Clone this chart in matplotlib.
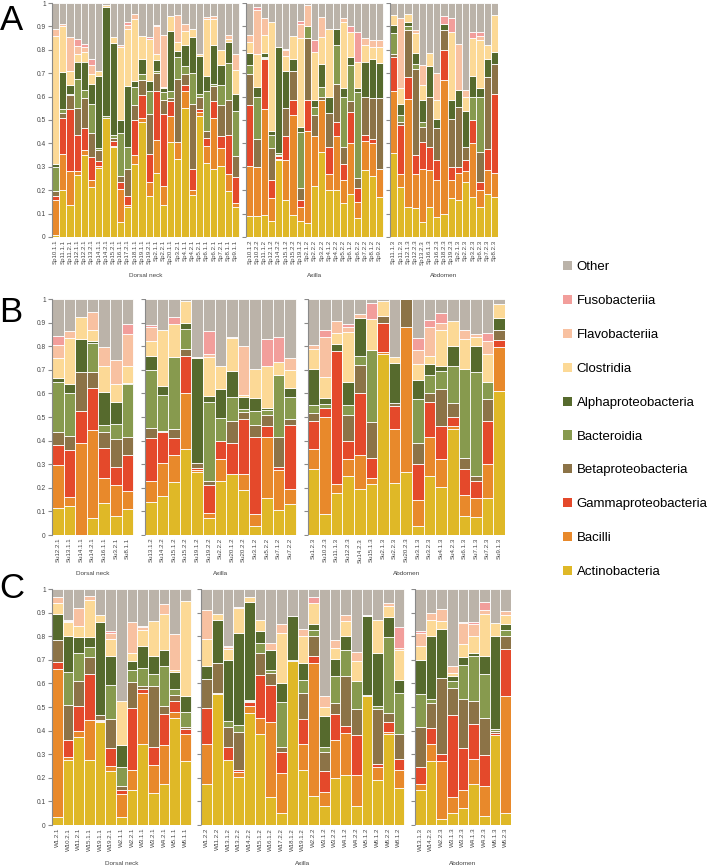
import matplotlib
matplotlib.use("Agg")
import matplotlib.pyplot as plt
from matplotlib.patches import Patch
import numpy as np

plt.rcParams['font.family'] = ['Liberation Sans', 'DejaVu Sans']

# --- Taxa, stacked from the bottom of each bar to the top --- #
TAXA = ['Actinobacteria', 'Bacilli', 'Gammaproteobacteria',
        'Betaproteobacteria', 'Bacteroidia', 'Alphaproteobacteria',
        'Clostridia', 'Flavobacteriia', 'Fusobacteriia', 'Other']
COLORS = ['#dfb827', '#e8892b', '#e4492b', '#8c7347', '#879a4e',
          '#566a2d', '#fcd996', '#f8c1a1', '#f29e9b', '#bbb3a9']
SITES = ['Dorsal neck', 'Axilla', 'Abdomen']

# Each row holds the cumulative top of Actinobacteria ... Fusobacteriia,
# 'Other' fills the rest of the bar up to 1.

# --- Panel A (Sp) --- #
A_NECK_LABELS = ['Sp10.1.1', 'Sp11.1.1', 'Sp11.2.1', 'Sp12.1.1', 'Sp12.2.1',
                 'Sp13.2.1', 'Sp14.1.1', 'Sp14.2.1', 'Sp15.2.1', 'Sp16.1.1',
                 'Sp17.2.1', 'Sp18.1.1', 'Sp19.1.1', 'Sp19.2.1', 'Sp2.1.1',
                 'Sp2.2.1', 'Sp20.1.1', 'Sp3.2.1', 'Sp4.1.1', 'Sp4.2.1',
                 'Sp5.2.1', 'Sp6.1.1', 'Sp6.2.1', 'Sp7.2.1', 'Sp8.1.1',
                 'Sp9.1.1']
A_NECK = [
    (0.01, 0.16, 0.175, 0.195, 0.30, 0.31, 0.86, 0.89, 0.89),
    (0.20, 0.355, 0.51, 0.53, 0.545, 0.705, 0.90, 0.91, 0.91),
    (0.135, 0.28, 0.545, 0.605, 0.61, 0.65, 0.71, 0.855, 0.855),
    (0.265, 0.28, 0.435, 0.55, 0.675, 0.75, 0.78, 0.815, 0.845),
    (0.35, 0.37, 0.465, 0.595, 0.63, 0.75, 0.79, 0.81, 0.825),
    (0.215, 0.245, 0.34, 0.445, 0.57, 0.655, 0.695, 0.735, 0.76),
    (0.295, 0.305, 0.325, 0.37, 0.38, 0.69, 0.71, 0.71, 0.71),
    (0.51, 0.51, 0.51, 0.51, 0.515, 0.985, 0.99, 0.99, 0.99),
    (0.385, 0.39, 0.41, 0.425, 0.435, 0.83, 0.855, 0.855, 0.855),
    (0.065, 0.205, 0.235, 0.26, 0.445, 0.50, 0.81, 0.82, 0.82),
    (0.13, 0.135, 0.175, 0.29, 0.385, 0.645, 0.89, 0.905, 0.92),
    (0.31, 0.35, 0.50, 0.565, 0.64, 0.665, 0.93, 0.955, 0.955),
    (0.49, 0.51, 0.605, 0.67, 0.695, 0.76, 0.86, 0.86, 0.86),
    (0.175, 0.235, 0.355, 0.525, 0.625, 0.665, 0.845, 0.845, 0.855),
    (0.275, 0.415, 0.625, 0.70, 0.71, 0.755, 0.78, 0.90, 0.905),
    (0.135, 0.22, 0.525, 0.585, 0.62, 0.635, 0.64, 0.865, 0.865),
    (0.405, 0.515, 0.58, 0.595, 0.625, 0.88, 0.945, 0.945, 0.945),
    (0.335, 0.405, 0.405, 0.675, 0.77, 0.795, 0.835, 0.95, 0.95),
    (0.55, 0.625, 0.65, 0.695, 0.73, 0.82, 0.88, 0.91, 0.91),
    (0.18, 0.20, 0.29, 0.57, 0.70, 0.855, 0.89, 0.89, 0.89),
    (0.515, 0.535, 0.545, 0.60, 0.61, 0.775, 0.78, 0.78, 0.78),
    (0.315, 0.39, 0.425, 0.455, 0.625, 0.69, 0.93, 0.94, 0.94),
    (0.29, 0.51, 0.58, 0.645, 0.655, 0.82, 0.93, 0.945, 0.945),
    (0.305, 0.38, 0.43, 0.565, 0.65, 0.735, 0.80, 0.80, 0.80),
    (0.195, 0.27, 0.435, 0.585, 0.745, 0.835, 0.845, 0.865, 0.865),
    (0.13, 0.145, 0.255, 0.345, 0.54, 0.61, 0.715, 0.78, 0.78),
]
A_AXILLA_LABELS = ['Sp10.1.2', 'Sp10.2.2', 'Sp11.1.2', 'Sp12.1.2', 'Sp14.2.2',
                   'Sp15.1.2', 'Sp15.2.2', 'Sp19.1.2', 'Sp2.1.2', 'Sp2.2.2',
                   'Sp3.2.2', 'Sp4.1.2', 'Sp4.2.2', 'Sp5.2.2', 'Sp6.1.2',
                   'Sp6.2.2', 'Sp7.2.2', 'Sp8.1.2', 'Sp9.2.2']
A_AXILLA = [
    (0.09, 0.305, 0.565, 0.695, 0.735, 0.785, 0.835, 0.865, 0.865),
    (0.09, 0.30, 0.30, 0.42, 0.60, 0.64, 0.78, 0.97, 0.985),
    (0.095, 0.545, 0.76, 0.765, 0.77, 0.785, 0.865, 0.935, 0.935),
    (0.07, 0.165, 0.245, 0.38, 0.435, 0.455, 0.92, 0.92, 0.92),
    (0.33, 0.335, 0.345, 0.35, 0.36, 0.81, 0.81, 0.81, 0.81),
    (0.16, 0.33, 0.43, 0.55, 0.55, 0.71, 0.775, 0.80, 0.805),
    (0.095, 0.52, 0.585, 0.71, 0.71, 0.76, 0.86, 0.86, 0.86),
    (0.07, 0.13, 0.16, 0.21, 0.45, 0.47, 0.85, 0.91, 0.925),
    (0.06, 0.455, 0.585, 0.85, 0.90, 0.90, 0.90, 0.99, 0.99),
    (0.22, 0.43, 0.43, 0.52, 0.555, 0.585, 0.79, 0.79, 0.84),
    (0.365, 0.585, 0.585, 0.60, 0.64, 0.74, 0.855, 0.94, 0.94),
    (0.20, 0.27, 0.385, 0.53, 0.53, 0.60, 0.89, 0.89, 0.89),
    (0.20, 0.43, 0.49, 0.655, 0.82, 0.89, 0.89, 0.89, 0.89),
    (0.145, 0.245, 0.31, 0.385, 0.60, 0.635, 0.92, 0.935, 0.935),
    (0.185, 0.40, 0.535, 0.58, 0.735, 0.77, 0.875, 0.875, 0.90),
    (0.08, 0.15, 0.21, 0.25, 0.62, 0.635, 0.75, 0.75, 0.875),
    (0.285, 0.41, 0.435, 0.60, 0.60, 0.75, 0.82, 0.85, 0.85),
    (0.26, 0.40, 0.42, 0.595, 0.595, 0.76, 0.81, 0.84, 0.84),
    (0.17, 0.29, 0.29, 0.595, 0.595, 0.745, 0.81, 0.84, 0.84),
]
A_ABDOMEN_LABELS = ['Sp11.1.3', 'Sp11.2.3', 'Sp12.1.3', 'Sp12.2.3', 'Sp13.2.3',
                    'Sp16.1.3', 'Sp16.2.3', 'Sp18.2.3', 'Sp19.2.3', 'Sp2.1.3',
                    'Sp2.2.3', 'Sp3.2.3', 'Sp6.2.3', 'Sp7.2.3', 'Sp8.2.3']
A_ABDOMEN = [
    (0.36, 0.625, 0.77, 0.78, 0.87, 0.905, 0.95, 0.95, 0.95),
    (0.215, 0.27, 0.48, 0.49, 0.52, 0.57, 0.635, 0.935, 0.935),
    (0.13, 0.59, 0.685, 0.885, 0.90, 0.92, 0.955, 0.955, 0.955),
    (0.125, 0.27, 0.35, 0.72, 0.74, 0.785, 0.87, 0.885, 0.885),
    (0.065, 0.29, 0.405, 0.47, 0.49, 0.585, 0.65, 0.735, 0.735),
    (0.13, 0.285, 0.385, 0.60, 0.60, 0.73, 0.785, 0.785, 0.785),
    (0.085, 0.245, 0.33, 0.465, 0.465, 0.505, 0.585, 0.70, 0.70),
    (0.10, 0.67, 0.80, 0.885, 0.885, 0.91, 0.91, 0.91, 0.945),
    (0.165, 0.245, 0.30, 0.505, 0.505, 0.585, 0.875, 0.875, 0.935),
    (0.16, 0.275, 0.30, 0.555, 0.555, 0.63, 0.63, 0.825, 0.825),
    (0.235, 0.28, 0.33, 0.385, 0.385, 0.54, 0.60, 0.63, 0.63),
    (0.17, 0.40, 0.50, 0.50, 0.60, 0.69, 0.85, 0.85, 0.875),
    (0.13, 0.20, 0.235, 0.365, 0.60, 0.635, 0.84, 0.86, 0.875),
    (0.185, 0.285, 0.375, 0.685, 0.685, 0.76, 0.82, 0.82, 0.82),
    (0.172, 0.272, 0.613, 0.74, 0.74, 0.79, 0.947, 0.947, 0.947),
]

# --- Panel B (Su) --- #
B_NECK_LABELS = ['Su12.2.1', 'Su13.1.1', 'Su14.1.1', 'Su14.2.1', 'Su16.1.1',
                 'Su3.2.1', 'Su8.1.1']
B_NECK = [
    (0.115, 0.295, 0.38, 0.435, 0.65, 0.665, 0.75, 0.805, 0.845),
    (0.125, 0.16, 0.36, 0.42, 0.60, 0.64, 0.835, 0.865, 0.865),
    (0.0, 0.39, 0.525, 0.69, 0.69, 0.83, 0.925, 0.925, 0.925),
    (0.07, 0.445, 0.625, 0.69, 0.815, 0.82, 0.87, 0.945, 0.945),
    (0.135, 0.24, 0.37, 0.435, 0.465, 0.605, 0.715, 0.795, 0.795),
    (0.08, 0.21, 0.29, 0.405, 0.47, 0.565, 0.64, 0.74, 0.74),
    (0.11, 0.185, 0.34, 0.415, 0.64, 0.645, 0.715, 0.85, 0.895),
]
B_AXILLA_LABELS = ['Su13.1.2', 'Su14.2.2', 'Su15.1.2', 'Su15.2.2', 'Su19.1.2',
                   'Su19.2.2', 'Su2.2.2', 'Su20.1.2', 'Su20.2.2', 'Su3.1.2',
                   'Su5.2.2', 'Su7.1.2', 'Su7.2.2']
B_AXILLA = [
    (0.14, 0.23, 0.41, 0.455, 0.70, 0.76, 0.82, 0.88, 0.89),
    (0.165, 0.305, 0.435, 0.44, 0.595, 0.63, 0.87, 0.87, 0.87),
    (0.225, 0.34, 0.41, 0.45, 0.755, 0.755, 0.895, 0.895, 0.925),
    (0.365, 0.60, 0.76, 0.79, 0.875, 0.90, 0.99, 0.99, 0.99),
    (0.265, 0.275, 0.285, 0.305, 0.305, 0.75, 0.755, 0.755, 0.755),
    (0.07, 0.095, 0.21, 0.23, 0.565, 0.59, 0.755, 0.765, 0.865),
    (0.23, 0.32, 0.40, 0.40, 0.495, 0.62, 0.715, 0.715, 0.715),
    (0.26, 0.26, 0.39, 0.485, 0.585, 0.695, 0.835, 0.84, 0.84),
    (0.19, 0.26, 0.49, 0.52, 0.535, 0.585, 0.595, 0.80, 0.80),
    (0.04, 0.09, 0.415, 0.465, 0.525, 0.58, 0.705, 0.705, 0.705),
    (0.155, 0.415, 0.46, 0.51, 0.53, 0.54, 0.715, 0.715, 0.83),
    (0.105, 0.275, 0.29, 0.415, 0.68, 0.68, 0.735, 0.735, 0.84),
    (0.13, 0.195, 0.465, 0.49, 0.585, 0.625, 0.70, 0.75, 0.75),
]
B_ABDOMEN_LABELS = ['Su1.2.3', 'Su10.2.3', 'Su11.1.3', 'Su12.2.3', 'Su14.2.3',
                    'Su15.1.3', 'Su2.1.3', 'Su2.2.3', 'Su20.2.3', 'Su3.1.3',
                    'Su3.2.3', 'Su4.1.3', 'Su4.2.3', 'Su6.1.3', 'Su7.1.3',
                    'Su7.2.3', 'Su9.1.3']
B_ABDOMEN = [
    (0.28, 0.365, 0.485, 0.515, 0.55, 0.705, 0.79, 0.805, 0.805),
    (0.09, 0.50, 0.54, 0.54, 0.555, 0.58, 0.67, 0.84, 0.87),
    (0.18, 0.215, 0.78, 0.78, 0.78, 0.81, 0.855, 0.905, 0.905),
    (0.25, 0.32, 0.40, 0.51, 0.55, 0.65, 0.86, 0.88, 0.895),
    (0.195, 0.34, 0.60, 0.72, 0.76, 0.92, 0.92, 0.935, 0.935),
    (0.215, 0.24, 0.325, 0.48, 0.785, 0.785, 0.915, 0.915, 0.985),
    (0.765, 0.775, 0.90, 0.93, 0.93, 0.93, 0.99, 0.99, 0.99),
    (0.22, 0.45, 0.545, 0.56, 0.56, 0.73, 0.755, 0.755, 0.755),
    (0.265, 0.88, 0.88, 1.0, 1.0, 1.0, 1.0, 1.0, 1.0),
    (0.04, 0.15, 0.30, 0.39, 0.575, 0.655, 0.725, 0.785, 0.835),
    (0.25, 0.415, 0.565, 0.60, 0.68, 0.725, 0.76, 0.88, 0.91),
    (0.205, 0.32, 0.46, 0.62, 0.695, 0.715, 0.87, 0.90, 0.94),
    (0.45, 0.46, 0.50, 0.56, 0.715, 0.80, 0.905, 0.905, 0.905),
    (0.08, 0.17, 0.28, 0.325, 0.705, 0.705, 0.83, 0.87, 0.87),
    (0.075, 0.155, 0.23, 0.25, 0.69, 0.80, 0.84, 0.85, 0.85),
    (0.155, 0.30, 0.485, 0.575, 0.65, 0.65, 0.765, 0.82, 0.855),
    (0.61, 0.795, 0.825, 0.87, 0.87, 0.92, 0.98, 0.98, 0.98),
]

# --- Panel C (W) --- #
C_NECK_LABELS = ['W1.2.1', 'W10.2.1', 'W11.2.1', 'W15.1.1', 'W19.1.1',
                 'W19.2.1', 'W2.1.1', 'W2.2.1', 'W3.1.1', 'W3.2.1', 'W4.2.1',
                 'W5.1.1', 'W6.1.1']
C_NECK = [
    (0.035, 0.66, 0.69, 0.785, 0.785, 0.895, 0.94, 0.965, 0.965),
    (0.275, 0.29, 0.36, 0.51, 0.65, 0.80, 0.86, 0.865, 0.87),
    (0.375, 0.40, 0.505, 0.61, 0.73, 0.795, 0.845, 0.92, 0.92),
    (0.275, 0.445, 0.64, 0.71, 0.755, 0.795, 0.955, 0.97, 0.97),
    (0.435, 0.44, 0.445, 0.465, 0.465, 0.86, 0.89, 0.89, 0.89),
    (0.23, 0.25, 0.325, 0.45, 0.595, 0.715, 0.79, 0.815, 0.82),
    (0.035, 0.13, 0.15, 0.165, 0.245, 0.34, 0.525, 0.525, 0.525),
    (0.15, 0.235, 0.495, 0.605, 0.655, 0.695, 0.73, 0.86, 0.86),
    (0.345, 0.56, 0.575, 0.59, 0.665, 0.76, 0.825, 0.84, 0.845),
    (0.135, 0.255, 0.33, 0.59, 0.64, 0.715, 0.865, 0.865, 0.865),
    (0.175, 0.34, 0.47, 0.505, 0.675, 0.74, 0.895, 0.935, 0.935),
    (0.455, 0.48, 0.525, 0.55, 0.575, 0.65, 0.655, 0.81, 0.81),
    (0.27, 0.385, 0.405, 0.415, 0.48, 0.545, 0.95, 0.95, 0.95),
]
C_AXILLA_LABELS = ['W1.2.2', 'W11.2.2', 'W13.1.2', 'W13.2.2', 'W14.2.2',
                   'W15.1.2', 'W16.1.2', 'W17.2.2', 'W18.1.2', 'W19.1.2',
                   'W2.2.2', 'W3.1.2', 'W3.2.2', 'W4.1.2', 'W4.2.2', 'W5.1.2',
                   'W6.1.2', 'W6.2.2', 'W8.1.2']
C_AXILLA = [
    (0.175, 0.345, 0.495, 0.62, 0.62, 0.675, 0.79, 0.91, 0.91),
    (0.555, 0.56, 0.56, 0.685, 0.685, 0.87, 0.895, 0.895, 0.895),
    (0.275, 0.275, 0.33, 0.415, 0.44, 0.70, 0.745, 0.755, 0.76),
    (0.205, 0.225, 0.235, 0.395, 0.425, 0.815, 0.92, 0.92, 0.925),
    (0.475, 0.505, 0.52, 0.525, 0.53, 0.945, 0.965, 0.965, 0.965),
    (0.385, 0.455, 0.635, 0.73, 0.77, 0.82, 0.87, 0.87, 0.87),
    (0.12, 0.435, 0.595, 0.645, 0.655, 0.74, 0.74, 0.77, 0.77),
    (0.05, 0.22, 0.31, 0.33, 0.52, 0.60, 0.815, 0.85, 0.85),
    (0.695, 0.695, 0.695, 0.70, 0.70, 0.885, 0.885, 0.885, 0.885),
    (0.235, 0.345, 0.45, 0.56, 0.615, 0.685, 0.80, 0.83, 0.83),
    (0.125, 0.685, 0.715, 0.80, 0.825, 0.85, 0.94, 0.94, 0.965),
    (0.08, 0.14, 0.23, 0.31, 0.33, 0.46, 0.50, 0.545, 0.545),
    (0.20, 0.36, 0.47, 0.515, 0.63, 0.705, 0.75, 0.785, 0.785),
    (0.21, 0.39, 0.42, 0.63, 0.74, 0.80, 0.865, 0.89, 0.89),
    (0.08, 0.21, 0.38, 0.49, 0.61, 0.61, 0.695, 0.735, 0.735),
    (0.545, 0.545, 0.545, 0.55, 0.55, 0.885, 0.89, 0.89, 0.89),
    (0.19, 0.245, 0.26, 0.49, 0.505, 0.73, 0.87, 0.87, 0.87),
    (0.385, 0.395, 0.435, 0.475, 0.795, 0.88, 0.93, 0.94, 0.94),
    (0.155, 0.235, 0.28, 0.385, 0.56, 0.615, 0.74, 0.75, 0.84),
]
C_ABDOMEN_LABELS = ['W13.1.3', 'W14.2.3', 'W2.2.3', 'W3.1.3', 'W3.2.3',
                    'W4.1.3', 'W4.2.3', 'W6.1.3', 'W6.2.3']
C_ABDOMEN = [
    (0.15, 0.175, 0.245, 0.415, 0.555, 0.70, 0.76, 0.815, 0.82),
    (0.27, 0.345, 0.41, 0.515, 0.535, 0.80, 0.87, 0.90, 0.90),
    (0.025, 0.27, 0.30, 0.625, 0.625, 0.83, 0.865, 0.915, 0.915),
    (0.05, 0.12, 0.465, 0.58, 0.61, 0.63, 0.645, 0.675, 0.675),
    (0.07, 0.15, 0.325, 0.535, 0.68, 0.71, 0.765, 0.855, 0.86),
    (0.175, 0.28, 0.43, 0.525, 0.715, 0.73, 0.80, 0.85, 0.86),
    (0.04, 0.165, 0.295, 0.455, 0.64, 0.715, 0.895, 0.91, 0.945),
    (0.38, 0.38, 0.39, 0.40, 0.405, 0.80, 0.855, 0.855, 0.855),
    (0.05, 0.545, 0.745, 0.80, 0.825, 0.85, 0.89, 0.905, 0.905),
]

GRAY = '#8a8a8a'
TEXT = '#444444'


def draw_panel(fig, rect, letter, letter_xy, groups):
    """
    Draws one panel of stacked bars. Groups are placed side by side on a
    single axes, separated by an empty slot holding its own y axis line.
    """
    ax = fig.add_axes(rect)
    pos = 0
    ticks, tick_labels, separators = [], [], []
    for gi, (site, labels, tops) in enumerate(groups):
        n = len(labels)
        x = pos + np.arange(n)
        cum = np.column_stack([np.zeros(n), np.array(tops), np.ones(n)])
        heights = np.diff(cum, axis=1)
        for k in range(len(TAXA)):
            ax.bar(x, heights[:, k], bottom=cum[:, k], width=1.0,
                   color=COLORS[k], edgecolor='white', linewidth=0.6)
        ticks.extend(x)
        tick_labels.extend(labels)

        # Site name under the group
        ax.annotate(site, xy=(x.mean(), 0), xycoords=('data', 'axes fraction'),
                    xytext=(0, -28), textcoords='offset points',
                    ha='center', va='center', fontsize=4.6, color=TEXT)
        pos += n
        if gi < len(groups) - 1:
            separators.append(pos + 0.5)
            pos += 1

    yt = np.round(np.arange(0, 1.01, 0.1), 1)
    for sx in separators:
        ax.plot([sx, sx], [0, 1], color=GRAY, linewidth=0.8)
        ax.plot(np.full(len(yt), sx), yt, linestyle='', marker=0,
                markersize=3, color=GRAY, markeredgewidth=0.8)

    ax.set_xlim(-0.5, pos - 0.5)
    ax.set_ylim(0, 1)
    ax.set_yticks(yt)
    ax.set_yticklabels(['0', '0.1', '0.2', '0.3', '0.4', '0.5', '0.6', '0.7',
                        '0.8', '0.9', '1'])
    ax.set_xticks(ticks)
    ax.set_xticklabels(tick_labels, rotation=90, fontsize=4.4, color=TEXT)
    ax.tick_params(axis='x', length=0, pad=2)
    ax.tick_params(axis='y', labelsize=4.8, labelcolor=TEXT, color=GRAY,
                   length=3, width=0.8, pad=1.5)
    for side in ['top', 'right', 'bottom']:
        ax.spines[side].set_visible(False)
    ax.spines['left'].set_color(GRAY)
    ax.spines['left'].set_linewidth(0.8)

    fig.text(letter_xy[0], letter_xy[1], letter, fontsize=25,
             ha='center', va='center', color='black')
    return ax


W, H = 711, 865
fig = plt.figure(figsize=(W / 100, H / 100), dpi=100)


def px_rect(left, top, right, bottom):
    return [left / W, 1 - bottom / H, (right - left) / W, (bottom - top) / H]


draw_panel(fig, px_rect(52, 3, 498, 237), 'A', (12 / W, 1 - 20 / H),
           [(SITES[0], A_NECK_LABELS, A_NECK),
            (SITES[1], A_AXILLA_LABELS, A_AXILLA),
            (SITES[2], A_ABDOMEN_LABELS, A_ABDOMEN)])
draw_panel(fig, px_rect(52, 299, 505, 535), 'B', (11 / W, 1 - 312 / H),
           [(SITES[0], B_NECK_LABELS, B_NECK),
            (SITES[1], B_AXILLA_LABELS, B_AXILLA),
            (SITES[2], B_ABDOMEN_LABELS, B_ABDOMEN)])
draw_panel(fig, px_rect(52, 589, 511, 825), 'C', (12 / W, 1 - 588 / H),
           [(SITES[0], C_NECK_LABELS, C_NECK),
            (SITES[1], C_AXILLA_LABELS, C_AXILLA),
            (SITES[2], C_ABDOMEN_LABELS, C_ABDOMEN)])

# Legend, top entry is the top of the stack
handles = [Patch(facecolor=c, edgecolor='none') for c in COLORS[::-1]]
fig.legend(handles, TAXA[::-1], loc='upper left',
           bbox_to_anchor=(563 / W, 1 - 261 / H), frameon=False,
           fontsize=9.5, handlelength=0.7, handleheight=0.7,
           handletextpad=0.35, labelspacing=1.64, borderpad=0,
           borderaxespad=0)

fig.savefig('out.png', dpi=100)
